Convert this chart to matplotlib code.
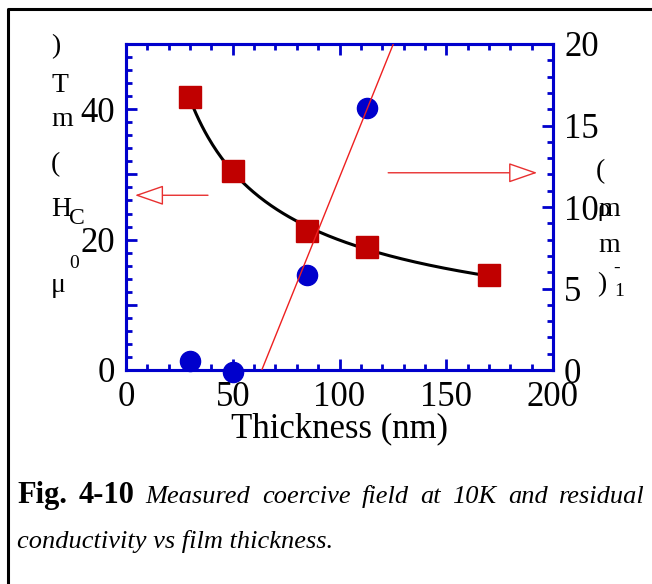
import matplotlib
matplotlib.use("Agg")
import matplotlib.pyplot as plt
from matplotlib.lines import Line2D
from matplotlib.ticker import MultipleLocator, FuncFormatter
import numpy as np

# coercive field (left axis, mT)
t_hc = [30, 50, 85, 113, 170]
hc = [41.8, 30.5, 21.3, 18.8, 14.5]

# residual conductivity (right axis)
t_sig = [30, 50, 85, 113]
sig = [0.55, -0.1, 5.85, 16.05]

# straight fit drawn through the conductivity points
fit_t = [63.6, 125.2]
fit_sig = [0.0, 20.0]

blue = "#0000cc"
red = "#c00000"
plt.rcParams["font.family"] = ["Liberation Serif", "DejaVu Serif"]

fig = plt.figure(figsize=(6.52, 5.84), dpi=100)
ax = fig.add_axes([126 / 652, 1 - 370 / 584, (553 - 126) / 652, (370 - 44) / 584])
ax2 = ax.twinx()

# power-law guide line through the Hc points
p = np.polyfit(np.log(t_hc), np.log(hc), 1)
tt = np.linspace(t_hc[0], t_hc[-1], 200)
ax.plot(tt, np.exp(np.polyval(p, np.log(tt))), color="black", lw=2.2, zorder=2)
ax.plot(t_hc, hc, "s", color=red, ms=16, zorder=3, clip_on=False)

ax2.plot(t_sig, sig, "o", color=blue, ms=14.5, zorder=2, clip_on=False)
ax2.plot(fit_t, fit_sig, color="#ee2020", lw=1, zorder=3)

ax.set_xlim(0, 200)
ax.set_ylim(0, 50)
ax2.set_ylim(0, 20)

ax.xaxis.set_major_locator(MultipleLocator(50))
ax.xaxis.set_minor_locator(MultipleLocator(10))
ax.yaxis.set_major_locator(MultipleLocator(10))
ax.yaxis.set_minor_locator(MultipleLocator(2))
ax.yaxis.set_major_formatter(FuncFormatter(lambda v, pos: "" if round(v) % 20 else str(int(round(v)))))
ax2.yaxis.set_major_locator(MultipleLocator(5))
ax2.yaxis.set_minor_locator(MultipleLocator(1))

for a in (ax, ax2):
    for s in a.spines.values():
        s.set_color(blue)
        s.set_linewidth(2.2)
    a.tick_params(which="major", direction="in", length=8, width=2, color=blue,
                  labelsize=25, pad=8)
    a.tick_params(which="minor", direction="in", length=4, width=2, color=blue)
ax.tick_params(which="both", top=True, right=False)
ax2.tick_params(which="both", left=False, right=True)

ax.set_xlabel("Thickness (nm)", fontsize=25, labelpad=-1)

# arrows pointing to the matching axes
arr = dict(arrowstyle="-|>,head_length=1.3,head_width=0.45", color="#e83030",
           fc="white", lw=1, mutation_scale=14, shrinkA=0, shrinkB=0)
ax.annotate("", xy=(4.2, 26.8), xytext=(38.4, 26.8), arrowprops=arr)
ax2.annotate("", xy=(192.6, 12.1), xytext=(122.8, 12.1), arrowprops=arr)

# stacked axis labels
def ftext(x, y, s, size=20):
    fig.text(x / 652, 1 - y / 584, s, fontsize=size, ha="left", va="center")

ftext(51, 47, ")")
ftext(51, 86, "T")
ftext(51, 120, "m")
ftext(51, 165, "(")
ftext(51, 209, "H")
ftext(69, 219, "C", 17)
ftext(69, 263, "0", 14)
ftext(51, 285, "\u03bc")

ftext(596, 172, "(")
ftext(597, 210, "\u03c1", 18)
ftext(598, 210, "m")
ftext(598, 245, "m")
ftext(597, 285, ")")
ftext(613, 268, "-", 14)
ftext(614, 292, "1", 14)

# outer frame (top and left sides)
fig.add_artist(Line2D([8 / 652, 8 / 652, 1], [0, 1 - 9 / 584, 1 - 9 / 584],
                      color="black", lw=2.2, transform=fig.transFigure))

# caption, first line justified between x=17 and x=645
words = ["Fig.", "4-10", "Measured", "coercive", "field", "at", "10K", "and", "residual"]
bold = [True, True] + [False] * 7
renderer = fig.canvas.get_renderer()
texts = []
for w, b in zip(words, bold):
    if b:
        t = fig.text(0, 1 - 503 / 584, w, fontsize=22, weight="bold", va="baseline")
    else:
        t = fig.text(0, 1 - 503 / 584, w, fontsize=19, style="italic", va="baseline")
    texts.append(t)
widths = [t.get_window_extent(renderer).width for t in texts]
gap = (645 - 17 - sum(widths)) / (len(words) - 1)
x = 17
for t, wd in zip(texts, widths):
    t.set_x(x / 652)
    x += wd + gap
fig.text(17 / 652, 1 - 548 / 584, "conductivity vs film thickness.", fontsize=19,
         style="italic", va="baseline")

fig.savefig("out.png", dpi=100)
